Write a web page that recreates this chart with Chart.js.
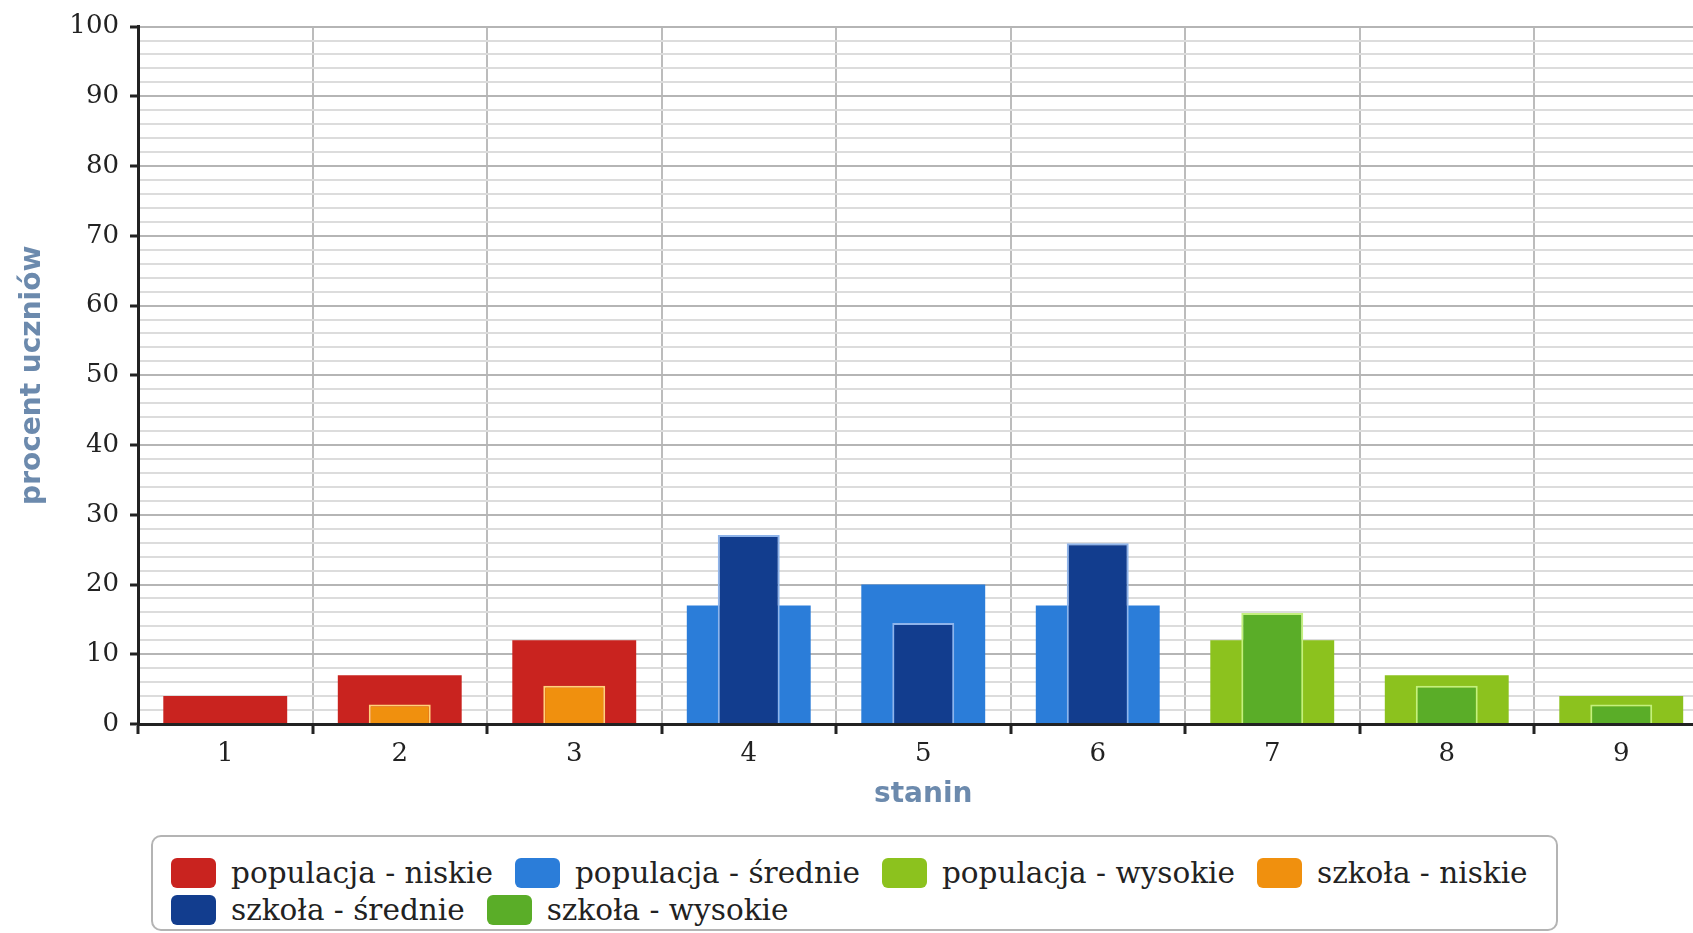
<!DOCTYPE html>
<html lang="pl">
<head>
<meta charset="utf-8">
<title>Wyniki w skali staninowej</title>
<script src="https://cdn.jsdelivr.net/npm/chart.js@4.4.1/dist/chart.umd.min.js"></script>
<style>
    html, body { margin: 0; padding: 0; background: #fff; overflow: hidden; }
    #wrap { position: relative; width: 1693px; height: 933px; overflow: hidden; }
    #chart { position: absolute; left: 0; top: 0; }
    #legend {
        position: absolute; left: 151px; top: 835px; width: 1407px; height: 96px;
        box-sizing: border-box; border: 2px solid #b4b4b4; border-radius: 10px;
        padding: 17px 0 0 18px; display: flex; flex-wrap: wrap; align-content: flex-start;
        column-gap: 22px;
        font-family: 'DejaVu Serif', serif; font-size: 29.5px; color: #222;
    }
    .item { display: flex; align-items: center; height: 37px; white-space: nowrap; }
    .swatch { width: 45px; height: 30px; border-radius: 6px; margin-right: 15px; }
</style>
</head>
<body>
<div id="wrap">
    <canvas id="chart" width="1720" height="812"></canvas>
    <div id="legend"></div>
</div>
<script>
// stanin categories and percentages
const stanines = ['1', '2', '3', '4', '5', '6', '7', '8', '9'];

const populacjaNiskie  = [4, 7, 12, null, null, null, null, null, null];
const populacjaSrednie = [null, null, null, 17, 20, 17, null, null, null];
const populacjaWysokie = [null, null, null, null, null, null, 12, 7, 4];

const szkolaNiskie  = [0, 2.8, 5.5, null, null, null, null, null, null];
const szkolaSrednie = [null, null, null, 27.1, 14.5, 25.9, null, null, null];
const szkolaWysokie = [null, null, null, null, null, null, 15.9, 5.5, 2.8];

const yMax = 100;
const yMajorStep = 10;
const yMinorStep = 2;

const seriesNames = {
    popLow: 'populacja - niskie',
    popMid: 'populacja - średnie',
    popHigh: 'populacja - wysokie',
    schLow: 'szkoła - niskie',
    schMid: 'szkoła - średnie',
    schHigh: 'szkoła - wysokie'
};

const AXIS_TITLE_COLOR = '#6c8aad';

function populationSet(label, data, color) {
    return {
        label, data,
        backgroundColor: color,
        borderWidth: 0,
        grouped: false,
        order: 1,
        barPercentage: 0.71,
        categoryPercentage: 1
    };
}

function schoolSet(label, data, color, edge) {
    return {
        label, data,
        backgroundColor: color,
        borderColor: edge,
        borderWidth: 2,
        grouped: false,
        order: 0,
        barPercentage: 0.355,
        categoryPercentage: 1
    };
}

Chart.defaults.font.family = "'DejaVu Serif', serif";
Chart.defaults.color = '#222';

const chart = new Chart(document.getElementById('chart'), {
    type: 'bar',
    data: {
        labels: stanines,
        datasets: [
            populationSet(seriesNames.popLow, populacjaNiskie, '#c9231f'),
            populationSet(seriesNames.popMid, populacjaSrednie, '#2b7dd9'),
            populationSet(seriesNames.popHigh, populacjaWysokie, '#8cc21e'),
            schoolSet(seriesNames.schLow, szkolaNiskie, '#f0900e', '#ffd27a'),
            schoolSet(seriesNames.schMid, szkolaSrednie, '#123d8e', '#8fb4ea'),
            schoolSet(seriesNames.schHigh, szkolaWysokie, '#5aad28', '#c4f07e')
        ]
    },
    options: {
        responsive: false,
        animation: false,
        layout: { padding: { left: 0, right: 11.5, top: 22, bottom: 0 } },
        plugins: {
            legend: { display: false },
            tooltip: { enabled: false }
        },
        scales: {
            x: {
                offset: true,
                grid: {
                    offset: true,
                    color: '#bcbcbc',
                    lineWidth: 2,
                    tickColor: '#222',
                    tickWidth: 3,
                    tickLength: 10
                },
                border: { color: '#222', width: 3 },
                ticks: { font: { size: 26 }, padding: 5, color: '#222' },
                title: {
                    display: true,
                    text: 'stanin',
                    color: AXIS_TITLE_COLOR,
                    font: { family: "'DejaVu Sans', sans-serif", size: 28, weight: 'bold' },
                    padding: { top: 0, bottom: 0 }
                },
                afterFit: (scale) => { scale.height = 88; }
            },
            y: {
                min: 0,
                max: yMax,
                grid: {
                    color: (ctx) => ctx.tick && ctx.tick.value % yMajorStep === 0 ? '#b5b5b5' : '#dcdcdc',
                    lineWidth: 2,
                    tickColor: (ctx) => ctx.tick && ctx.tick.value % yMajorStep === 0 ? '#222' : 'rgba(0,0,0,0)',
                    tickWidth: 3,
                    tickLength: 8
                },
                border: { color: '#222', width: 3 },
                ticks: {
                    stepSize: yMinorStep,
                    autoSkip: false,
                    padding: 11,
                    font: { size: 26 },
                    color: '#222',
                    callback: (value) => value % yMajorStep === 0 ? String(value) : ''
                },
                title: {
                    display: true,
                    text: 'procent uczniów',
                    color: AXIS_TITLE_COLOR,
                    font: { family: "'DejaVu Sans', sans-serif", size: 28, weight: 'bold' },
                    padding: { top: 16, bottom: 0 }
                },
                afterFit: (scale) => { scale.width = 138; }
            }
        }
    }
});

// legend box built from the chart's own datasets
const legendBox = document.getElementById('legend');
legendBox.innerHTML = chart.data.datasets.map(ds => `
    <div class="item">
        <span class="swatch" style="background:${ds.backgroundColor}"></span>
        <span>${ds.label}</span>
    </div>
`).join('');
</script>
</body>
</html>
